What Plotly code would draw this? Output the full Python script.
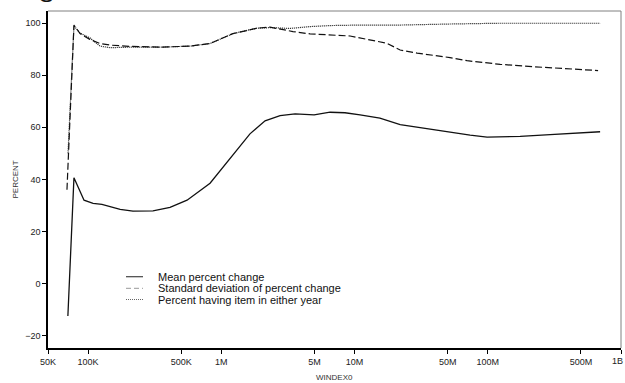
import plotly.graph_objects as go

FONT = "Liberation Sans, Arial, sans-serif"

# ---- data ----
series_names = ["Mean percent change",
                "Standard deviation of percent change",
                "Percent having item in either year"]

mean_x = [70500, 78300, 93200, 109000, 127000, 146000, 174000, 217000, 307000, 412000,
          553000, 823000, 1310000, 1640000, 2130000, 2760000, 3580000, 4970000, 6550000,
          8480000, 11000000, 15500000, 22000000, 31000000, 48600000, 73700000, 98800000,
          175000000, 294000000, 493000000, 697000000]
mean_y = [-12.5, 40.6, 32.0, 30.8, 30.4, 29.5, 28.5, 27.8, 27.9, 29.2,
          32.0, 38.5, 51.3, 57.5, 62.5, 64.5, 65.2, 64.8, 65.8,
          65.6, 64.8, 63.5, 61.0, 59.8, 58.5, 57.0, 56.2,
          56.5, 57.2, 57.8, 58.3]

sd_x = [69400, 78300, 87000, 103000, 123000, 146000, 206000, 347000, 582000, 823000,
        1220000, 1850000, 2320000, 3450000, 4630000, 6890000, 9250000, 17500000,
        22000000, 29500000, 38900000, 52100000, 69900000, 124000000, 219000000,
        394000000, 673000000]
sd_y = [36.0, 99.3, 96.0, 93.8, 92.2, 91.6, 91.1, 90.8, 91.2, 92.2,
        96.0, 98.1, 98.5, 96.8, 95.9, 95.5, 95.1, 92.3,
        89.7, 88.5, 87.8, 86.8, 85.6, 84.2, 83.3,
        82.4, 81.8]

have_x = [70700, 78300, 87000, 103000, 123000, 146000, 206000, 347000, 582000, 823000,
          1220000, 1850000, 2320000, 3280000, 4630000, 6550000, 11000000, 22000000,
          52100000, 124000000, 697000000]
have_y = [50.0, 99.0, 96.2, 94.4, 91.2, 90.6, 90.8, 90.8, 91.2, 92.2,
          96.0, 98.1, 98.3, 98.0, 98.7, 99.1, 99.3, 99.3,
          99.7, 100.0, 100.0]

x_tickvals = [5e4, 1e5, 5e5, 1e6, 5e6, 1e7, 5e7, 1e8, 5e8, 1e9]
x_ticktext = ["50K", "100K", "500K", "1M", "5M", "10M", "50M", "100M", "500M", "1B"]
y_tickvals = [-20, 0, 20, 40, 60, 80, 100]

styles = [dict(color="#111111", width=1.3, dash="solid"),
          dict(color="#111111", width=1.2, dash="7px,3px"),
          dict(color="#111111", width=1.2, dash="1px,1px")]
legend_styles = [dict(color="#444444", width=1.2, dash="solid"),
                 dict(color="#999999", width=1.0, dash="5px,3px"),
                 dict(color="#666666", width=1.0, dash="1px,1px")]

fig = go.Figure()
for xs, ys, name, st in zip([mean_x, sd_x, have_x], [mean_y, sd_y, have_y], series_names, styles):
    fig.add_trace(go.Scatter(x=xs, y=ys, mode="lines", name=name, line=st, showlegend=False))

# legend (drawn manually for tight spacing)
W, H, L, T = 573.0, 337.0, 48.0, 11.0
def px_x(p):
    return (p - L) / W
def px_y(p):
    return (T + H - p) / H

rows = [276.7, 288.3, 299.5]
for name, st, ry in zip(series_names, legend_styles, rows):
    fig.add_shape(type="line", xref="paper", yref="paper",
                  x0=px_x(126), x1=px_x(143), y0=px_y(ry), y1=px_y(ry), line=st)
    fig.add_annotation(text=name, xref="paper", yref="paper", x=px_x(156), y=px_y(ry),
                       xanchor="left", yanchor="middle", showarrow=False,
                       font=dict(family=FONT, size=11, color="#111111"))

# grey top/right frame
fig.add_shape(type="line", xref="paper", yref="paper", x0=0, x1=1, y0=1, y1=1,
              line=dict(color="#808080", width=1))
fig.add_shape(type="line", xref="paper", yref="paper", x0=1, x1=1, y0=0, y1=1,
              line=dict(color="#808080", width=1))

# axis titles
fig.add_annotation(text="PERCENT", xref="paper", yref="paper", x=px_x(15), y=0.5,
                   textangle=-90, showarrow=False, xanchor="center", yanchor="middle",
                   font=dict(family=FONT, size=8, color="#333333"))
fig.add_annotation(text="WINDEX0", xref="paper", yref="paper", x=0.5, y=px_y(377),
                   showarrow=False, xanchor="center", yanchor="middle",
                   font=dict(family=FONT, size=8, color="#333333"))
# cropped title fragment at very top
fig.add_annotation(text="S", xref="paper", yref="paper", x=px_x(46), y=px_y(9),
                   showarrow=False, xanchor="center", yanchor="bottom",
                   font=dict(family=FONT, size=22, color="#111111"))

# last x tick label placed just inside the page edge so it stays whole
axis_ticktext = x_ticktext[:-1] + [""]
fig.add_annotation(text=x_ticktext[-1], xref="paper", yref="paper", x=px_x(625), y=px_y(361),
                   showarrow=False, xanchor="right", yanchor="middle",
                   font=dict(family=FONT, size=9, color="#222222"))

fig.update_xaxes(type="log", range=[4.69897, 9.0], tickvals=x_tickvals, ticktext=axis_ticktext,
                 showline=True, linecolor="black", linewidth=1.5, ticks="outside", ticklen=4,
                 tickcolor="black", tickwidth=1, showgrid=False, zeroline=False, automargin=False,
                 ticklabeloverflow="allow",
                 tickfont=dict(family=FONT, size=9, color="#222222"))
fig.update_yaxes(range=[-24.8, 104.7], tickvals=y_tickvals,
                 showline=True, linecolor="black", linewidth=1.5, ticks="outside", ticklen=4,
                 tickcolor="black", tickwidth=1, showgrid=False, zeroline=False, automargin=False,
                 ticklabeloverflow="allow",
                 tickfont=dict(family=FONT, size=9, color="#222222"))
fig.update_layout(width=625, height=383, margin=dict(l=48, r=4, t=11, b=35, autoexpand=False),
                  plot_bgcolor="white", paper_bgcolor="white", showlegend=False)

fig.write_html("out.html", config={"displayModeBar": False},
               post_script="document.body.style.margin='0';document.body.style.overflow='hidden';")
